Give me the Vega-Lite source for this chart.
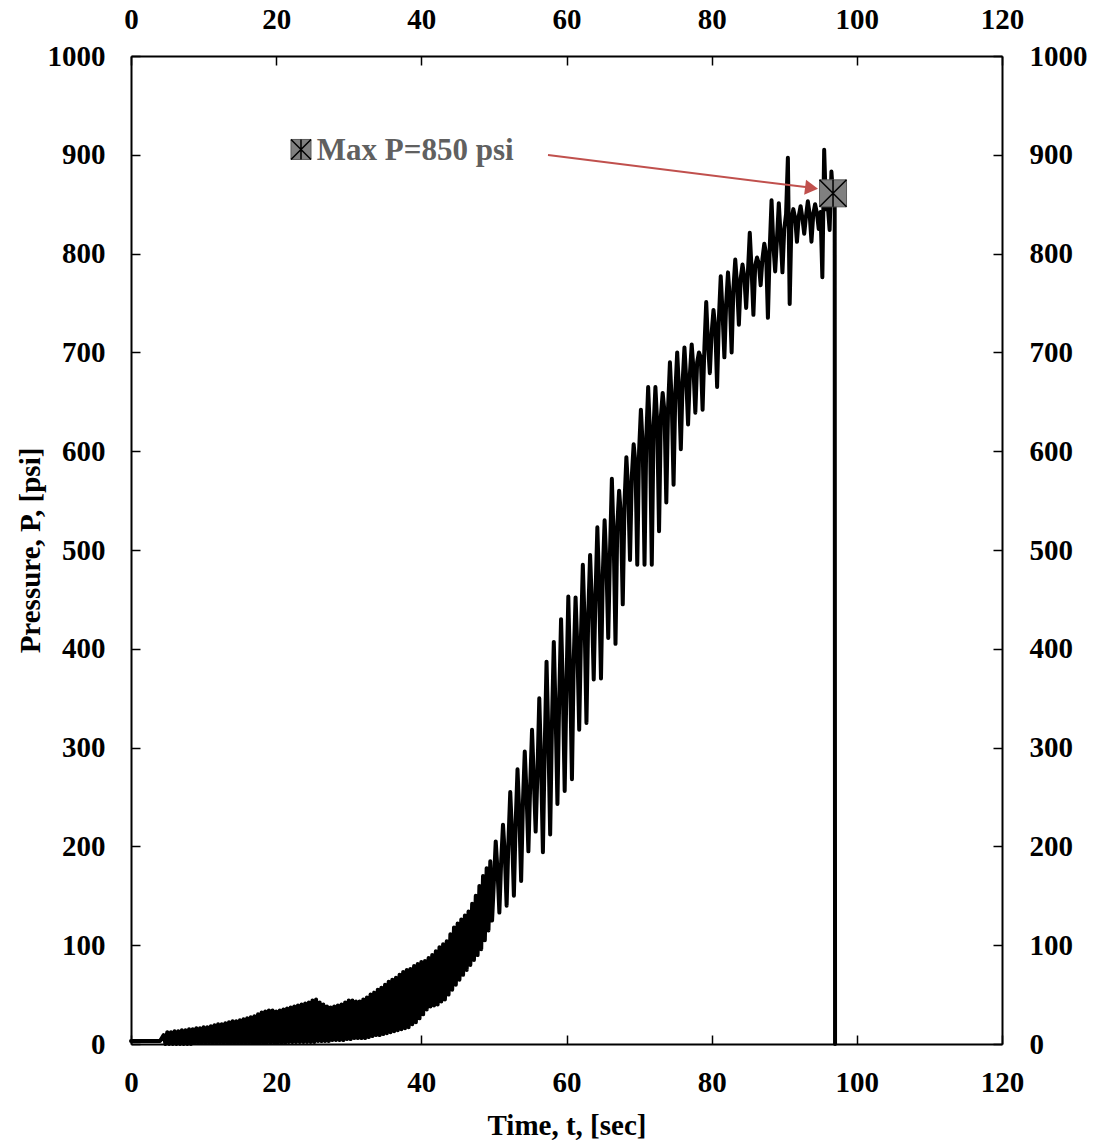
{
  "$schema": "https://vega.github.io/schema/vega-lite/v6.json",
  "width": 871,
  "height": 988,
  "autosize": {"type": "none"},
  "padding": {"left": 131, "top": 56, "right": 101, "bottom": 101},
  "background": "white",
  "config": {
    "view": {"stroke": null},
    "axis": {
      "grid": false,
      "domainColor": "black",
      "domainWidth": 2,
      "tickColor": "black",
      "tickWidth": 1.5,
      "tickSize": -9,
      "format": "d",
      "labelFont": "Liberation Serif",
      "labelFontWeight": "bold",
      "labelFontSize": 29,
      "labelColor": "black",
      "labelFlush": false,
      "labelOverlap": false,
      "labelBound": false,
      "titleFont": "Liberation Serif",
      "titleFontWeight": "bold",
      "titleFontSize": 29,
      "titleColor": "black"
    }
  },
  "datasets": {
    "pressure": [
      {"t": 0, "p": 3}, {"t": 0.5, "p": 3}, {"t": 1, "p": 3}, {"t": 1.5, "p": 3}, {"t": 2, "p": 3},
      {"t": 2.5, "p": 3}, {"t": 3, "p": 3}, {"t": 3.5, "p": 3}, {"t": 4, "p": 3}, {"t": 4.5, "p": 9},
      {"t": 4.75, "p": 0}, {"t": 5, "p": 12}, {"t": 5.25, "p": 0}, {"t": 5.5, "p": 12}, {"t": 5.75, "p": 0},
      {"t": 6, "p": 13}, {"t": 6.25, "p": 0}, {"t": 6.5, "p": 13}, {"t": 6.75, "p": 0}, {"t": 7, "p": 14},
      {"t": 7.25, "p": 0}, {"t": 7.5, "p": 14}, {"t": 7.75, "p": 0}, {"t": 8, "p": 15}, {"t": 8.25, "p": 0},
      {"t": 8.5, "p": 15}, {"t": 8.75, "p": 1}, {"t": 9, "p": 16}, {"t": 9.25, "p": 1}, {"t": 9.5, "p": 16},
      {"t": 9.75, "p": 1}, {"t": 10, "p": 17}, {"t": 10.25, "p": 1}, {"t": 10.5, "p": 17}, {"t": 10.75, "p": 1},
      {"t": 11, "p": 18}, {"t": 11.25, "p": 1}, {"t": 11.5, "p": 19}, {"t": 11.75, "p": 1}, {"t": 12, "p": 20},
      {"t": 12.25, "p": 1}, {"t": 12.5, "p": 20}, {"t": 12.75, "p": 1}, {"t": 13, "p": 21}, {"t": 13.25, "p": 1},
      {"t": 13.5, "p": 22}, {"t": 13.75, "p": 1}, {"t": 14, "p": 23}, {"t": 14.25, "p": 1}, {"t": 14.5, "p": 23},
      {"t": 14.75, "p": 1}, {"t": 15, "p": 24}, {"t": 15.25, "p": 1}, {"t": 15.5, "p": 25}, {"t": 15.75, "p": 1},
      {"t": 16, "p": 26}, {"t": 16.25, "p": 1}, {"t": 16.5, "p": 27}, {"t": 16.75, "p": 1}, {"t": 17, "p": 28},
      {"t": 17.25, "p": 1}, {"t": 17.5, "p": 30}, {"t": 17.75, "p": 1}, {"t": 18, "p": 32}, {"t": 18.25, "p": 1},
      {"t": 18.5, "p": 33}, {"t": 18.75, "p": 1}, {"t": 19, "p": 34}, {"t": 19.25, "p": 1}, {"t": 19.5, "p": 34},
      {"t": 19.75, "p": 1}, {"t": 20, "p": 33}, {"t": 20.25, "p": 1}, {"t": 20.5, "p": 34}, {"t": 20.75, "p": 1},
      {"t": 21, "p": 35}, {"t": 21.25, "p": 1}, {"t": 21.5, "p": 36}, {"t": 21.75, "p": 2}, {"t": 22, "p": 37},
      {"t": 22.25, "p": 2}, {"t": 22.5, "p": 38}, {"t": 22.75, "p": 2}, {"t": 23, "p": 39}, {"t": 23.25, "p": 2},
      {"t": 23.5, "p": 40}, {"t": 23.75, "p": 2}, {"t": 24, "p": 41}, {"t": 24.25, "p": 2}, {"t": 24.5, "p": 42},
      {"t": 24.75, "p": 2}, {"t": 25, "p": 44}, {"t": 25.25, "p": 2}, {"t": 25.5, "p": 45}, {"t": 25.75, "p": 3},
      {"t": 26, "p": 42}, {"t": 26.25, "p": 3}, {"t": 26.5, "p": 40}, {"t": 26.75, "p": 3}, {"t": 27, "p": 38},
      {"t": 27.25, "p": 3}, {"t": 27.5, "p": 37}, {"t": 27.75, "p": 4}, {"t": 28, "p": 38}, {"t": 28.25, "p": 4},
      {"t": 28.5, "p": 39}, {"t": 28.75, "p": 4}, {"t": 29, "p": 40}, {"t": 29.25, "p": 4}, {"t": 29.5, "p": 42},
      {"t": 29.75, "p": 5}, {"t": 30, "p": 44}, {"t": 30.25, "p": 5}, {"t": 30.5, "p": 44}, {"t": 30.75, "p": 6},
      {"t": 31, "p": 43}, {"t": 31.25, "p": 6}, {"t": 31.5, "p": 43}, {"t": 31.75, "p": 6}, {"t": 32, "p": 45},
      {"t": 32.25, "p": 6}, {"t": 32.5, "p": 47}, {"t": 32.75, "p": 7}, {"t": 33, "p": 50}, {"t": 33.25, "p": 8},
      {"t": 33.5, "p": 52}, {"t": 33.75, "p": 9}, {"t": 34, "p": 55}, {"t": 34.25, "p": 9}, {"t": 34.5, "p": 57},
      {"t": 34.75, "p": 10}, {"t": 35, "p": 60}, {"t": 35.25, "p": 11}, {"t": 35.5, "p": 63}, {"t": 35.75, "p": 12},
      {"t": 36, "p": 65}, {"t": 36.25, "p": 13}, {"t": 36.5, "p": 67}, {"t": 36.75, "p": 14}, {"t": 37, "p": 70},
      {"t": 37.25, "p": 15}, {"t": 37.5, "p": 73}, {"t": 37.75, "p": 16}, {"t": 38, "p": 75}, {"t": 38.25, "p": 17},
      {"t": 38.5, "p": 76}, {"t": 38.75, "p": 20}, {"t": 39, "p": 79}, {"t": 39.25, "p": 22}, {"t": 39.5, "p": 81},
      {"t": 39.75, "p": 26}, {"t": 40, "p": 83}, {"t": 40.25, "p": 30}, {"t": 40.5, "p": 84}, {"t": 40.75, "p": 35},
      {"t": 41, "p": 87}, {"t": 41.25, "p": 38}, {"t": 41.5, "p": 90}, {"t": 41.75, "p": 39}, {"t": 42, "p": 94},
      {"t": 42.25, "p": 40}, {"t": 42.5, "p": 98}, {"t": 42.75, "p": 43}, {"t": 43, "p": 101}, {"t": 43.25, "p": 45},
      {"t": 43.5, "p": 104}, {"t": 43.75, "p": 50}, {"t": 44, "p": 111}, {"t": 44.25, "p": 55}, {"t": 44.5, "p": 118},
      {"t": 44.75, "p": 60}, {"t": 45, "p": 122}, {"t": 45.25, "p": 65}, {"t": 45.5, "p": 126}, {"t": 45.75, "p": 70},
      {"t": 46, "p": 130}, {"t": 46.25, "p": 75}, {"t": 46.5, "p": 134}, {"t": 46.75, "p": 80}, {"t": 47, "p": 142},
      {"t": 47.25, "p": 85}, {"t": 47.5, "p": 150}, {"t": 47.75, "p": 90}, {"t": 48, "p": 160}, {"t": 48.25, "p": 96},
      {"t": 48.5, "p": 170}, {"t": 48.75, "p": 105}, {"t": 49, "p": 178}, {"t": 49.25, "p": 115}, {"t": 49.5, "p": 185},
      {"t": 49.75, "p": 125}, {"t": 50, "p": 165}, {"t": 50.25, "p": 205}, {"t": 50.5, "p": 175}, {"t": 50.75, "p": 133},
      {"t": 51, "p": 185}, {"t": 51.25, "p": 222}, {"t": 51.5, "p": 192}, {"t": 51.75, "p": 140},
      {"t": 52, "p": 205}, {"t": 52.25, "p": 255}, {"t": 52.5, "p": 212}, {"t": 52.75, "p": 150},
      {"t": 53, "p": 225}, {"t": 53.25, "p": 278}, {"t": 53.5, "p": 232}, {"t": 53.75, "p": 165},
      {"t": 54, "p": 245}, {"t": 54.25, "p": 296}, {"t": 54.5, "p": 252}, {"t": 54.75, "p": 195},
      {"t": 55, "p": 262}, {"t": 55.25, "p": 318}, {"t": 55.5, "p": 268}, {"t": 55.75, "p": 215},
      {"t": 56, "p": 275}, {"t": 56.25, "p": 350}, {"t": 56.5, "p": 282}, {"t": 56.75, "p": 194},
      {"t": 57, "p": 300}, {"t": 57.25, "p": 387}, {"t": 57.5, "p": 310}, {"t": 57.75, "p": 212},
      {"t": 58, "p": 325}, {"t": 58.25, "p": 407}, {"t": 58.5, "p": 335}, {"t": 58.75, "p": 243},
      {"t": 59, "p": 350}, {"t": 59.25, "p": 430}, {"t": 59.5, "p": 358}, {"t": 59.75, "p": 256},
      {"t": 60, "p": 365}, {"t": 60.25, "p": 453}, {"t": 60.5, "p": 372}, {"t": 60.75, "p": 268},
      {"t": 61, "p": 390}, {"t": 61.25, "p": 452}, {"t": 61.5, "p": 400}, {"t": 61.75, "p": 318},
      {"t": 62, "p": 415}, {"t": 62.25, "p": 485}, {"t": 62.5, "p": 425}, {"t": 62.75, "p": 325},
      {"t": 63, "p": 435}, {"t": 63.25, "p": 495}, {"t": 63.5, "p": 445}, {"t": 63.75, "p": 369},
      {"t": 64, "p": 455}, {"t": 64.25, "p": 523}, {"t": 64.5, "p": 462}, {"t": 64.75, "p": 370},
      {"t": 65, "p": 475}, {"t": 65.25, "p": 530}, {"t": 65.5, "p": 485}, {"t": 65.75, "p": 411},
      {"t": 66, "p": 500}, {"t": 66.25, "p": 572}, {"t": 66.5, "p": 510}, {"t": 66.75, "p": 405},
      {"t": 67, "p": 525}, {"t": 67.25, "p": 560}, {"t": 67.5, "p": 535}, {"t": 67.75, "p": 445},
      {"t": 68, "p": 550}, {"t": 68.25, "p": 594}, {"t": 68.5, "p": 560}, {"t": 68.75, "p": 490},
      {"t": 69, "p": 575}, {"t": 69.25, "p": 607}, {"t": 69.5, "p": 588}, {"t": 69.75, "p": 485},
      {"t": 70, "p": 600}, {"t": 70.25, "p": 642}, {"t": 70.5, "p": 605}, {"t": 70.75, "p": 485},
      {"t": 71, "p": 615}, {"t": 71.25, "p": 665}, {"t": 71.5, "p": 618}, {"t": 71.75, "p": 485},
      {"t": 72, "p": 625}, {"t": 72.25, "p": 665}, {"t": 72.5, "p": 628}, {"t": 72.75, "p": 519},
      {"t": 73, "p": 635}, {"t": 73.25, "p": 659}, {"t": 73.5, "p": 640}, {"t": 73.75, "p": 548},
      {"t": 74, "p": 645}, {"t": 74.25, "p": 690}, {"t": 74.5, "p": 650}, {"t": 74.75, "p": 566},
      {"t": 75, "p": 660}, {"t": 75.25, "p": 700}, {"t": 75.5, "p": 662}, {"t": 75.75, "p": 602},
      {"t": 76, "p": 670}, {"t": 76.25, "p": 705}, {"t": 76.5, "p": 672}, {"t": 76.75, "p": 627},
      {"t": 77, "p": 678}, {"t": 77.25, "p": 708}, {"t": 77.5, "p": 682}, {"t": 77.75, "p": 639},
      {"t": 78, "p": 690}, {"t": 78.25, "p": 700}, {"t": 78.5, "p": 695}, {"t": 78.75, "p": 642},
      {"t": 79, "p": 705}, {"t": 79.25, "p": 751}, {"t": 79.5, "p": 708}, {"t": 79.75, "p": 679},
      {"t": 80, "p": 720}, {"t": 80.25, "p": 743}, {"t": 80.5, "p": 725}, {"t": 80.75, "p": 665},
      {"t": 81, "p": 735}, {"t": 81.25, "p": 777}, {"t": 81.5, "p": 740}, {"t": 81.75, "p": 695},
      {"t": 82, "p": 750}, {"t": 82.25, "p": 781}, {"t": 82.5, "p": 755}, {"t": 82.75, "p": 700},
      {"t": 83, "p": 765}, {"t": 83.25, "p": 794}, {"t": 83.5, "p": 768}, {"t": 83.75, "p": 728},
      {"t": 84, "p": 775}, {"t": 84.25, "p": 789}, {"t": 84.5, "p": 776}, {"t": 84.75, "p": 745},
      {"t": 85, "p": 782}, {"t": 85.25, "p": 821}, {"t": 85.5, "p": 784}, {"t": 85.75, "p": 738},
      {"t": 86, "p": 788}, {"t": 86.25, "p": 796}, {"t": 86.5, "p": 790}, {"t": 86.75, "p": 768},
      {"t": 87, "p": 795}, {"t": 87.25, "p": 810}, {"t": 87.5, "p": 800}, {"t": 87.75, "p": 735},
      {"t": 88, "p": 805}, {"t": 88.25, "p": 854}, {"t": 88.5, "p": 808}, {"t": 88.75, "p": 782},
      {"t": 89, "p": 815}, {"t": 89.25, "p": 851}, {"t": 89.5, "p": 818}, {"t": 89.75, "p": 781},
      {"t": 90, "p": 825}, {"t": 90.25, "p": 840}, {"t": 90.5, "p": 897}, {"t": 90.75, "p": 749},
      {"t": 91, "p": 835}, {"t": 91.25, "p": 845}, {"t": 91.5, "p": 836}, {"t": 91.75, "p": 812},
      {"t": 92, "p": 838}, {"t": 92.25, "p": 848}, {"t": 92.5, "p": 836}, {"t": 92.75, "p": 820},
      {"t": 93, "p": 838}, {"t": 93.25, "p": 853}, {"t": 93.5, "p": 840}, {"t": 93.75, "p": 812},
      {"t": 94, "p": 840}, {"t": 94.25, "p": 850}, {"t": 94.5, "p": 841}, {"t": 94.75, "p": 825},
      {"t": 95, "p": 842}, {"t": 95.25, "p": 776}, {"t": 95.5, "p": 905}, {"t": 95.75, "p": 845},
      {"t": 96, "p": 848}, {"t": 96.25, "p": 824}, {"t": 96.5, "p": 883}, {"t": 96.75, "p": 855},
      {"t": 96.95, "p": 860}, {"t": 97, "p": 0}
    ],
    "peak": [{"t": 96.72, "p": 861}],
    "note": [{"t": 23.42, "p": 905.4, "tx": 25.6, "py": 894.7, "label": "Max P=850 psi"}],
    "arrow": [{"t": 57.45, "p": 899.8, "t2": 93.5, "p2": 866.8, "th": 93.76, "ph": 866.4}]
  },
  "layer": [
    {
      "data": {"name": "pressure"},
      "mark": {"type": "line", "color": "black", "strokeWidth": 4, "strokeJoin": "round", "strokeCap": "round"},
      "encoding": {
        "x": {
          "field": "t", "type": "quantitative",
          "scale": {"domain": [0, 120], "nice": false, "zero": false},
          "axis": {"orient": "bottom", "values": [0, 20, 40, 60, 80, 100, 120], "labelPadding": 33, "title": "Time, t, [sec]", "titlePadding": 14}
        },
        "y": {
          "field": "p", "type": "quantitative",
          "scale": {"domain": [0, 1000], "nice": false, "zero": false},
          "axis": {"orient": "left", "values": [0, 100, 200, 300, 400, 500, 600, 700, 800, 900, 1000], "labelPadding": 35, "title": "Pressure, P, [psi]", "titlePadding": 2}
        }
      }
    },
    {
      "data": {"name": "peak"},
      "mark": {"type": "point", "shape": "square", "filled": true, "fill": "#808080", "stroke": "#5a5a5a", "strokeWidth": 1, "size": 729, "opacity": 1},
      "encoding": {
        "x": {
          "field": "t", "type": "quantitative",
          "scale": {"domain": [0, 120], "nice": false, "zero": false},
          "axis": {"orient": "top", "values": [0, 20, 40, 60, 80, 100, 120], "labelPadding": 31, "title": null}
        },
        "y": {
          "field": "p", "type": "quantitative",
          "scale": {"domain": [0, 1000], "nice": false, "zero": false},
          "axis": {"orient": "right", "values": [0, 100, 200, 300, 400, 500, 600, 700, 800, 900, 1000], "labelPadding": 36, "title": null}
        }
      }
    },
    {
      "data": {"name": "peak"},
      "mark": {"type": "point", "shape": "M-1,-1L1,1M-1,1L1,-1M0,-1L0,1", "filled": false, "stroke": "black", "strokeWidth": 1.5, "size": 729, "opacity": 1},
      "encoding": {
        "x": {"field": "t", "type": "quantitative", "scale": {"domain": [0, 120], "nice": false, "zero": false}, "axis": null},
        "y": {"field": "p", "type": "quantitative", "scale": {"domain": [0, 1000], "nice": false, "zero": false}, "axis": null}
      }
    },
    {
      "data": {"name": "note"},
      "mark": {"type": "point", "shape": "square", "filled": true, "fill": "#808080", "stroke": "#5a5a5a", "strokeWidth": 1, "size": 400, "opacity": 1},
      "encoding": {
        "x": {"field": "t", "type": "quantitative", "scale": {"domain": [0, 120], "nice": false, "zero": false}, "axis": null},
        "y": {"field": "p", "type": "quantitative", "scale": {"domain": [0, 1000], "nice": false, "zero": false}, "axis": null}
      }
    },
    {
      "data": {"name": "note"},
      "mark": {"type": "point", "shape": "M-1,-1L1,1M-1,1L1,-1M0,-1L0,1", "filled": false, "stroke": "black", "strokeWidth": 1.5, "size": 400, "opacity": 1},
      "encoding": {
        "x": {"field": "t", "type": "quantitative", "scale": {"domain": [0, 120], "nice": false, "zero": false}, "axis": null},
        "y": {"field": "p", "type": "quantitative", "scale": {"domain": [0, 1000], "nice": false, "zero": false}, "axis": null}
      }
    },
    {
      "data": {"name": "note"},
      "mark": {"type": "text", "align": "left", "baseline": "alphabetic", "font": "Liberation Serif", "fontWeight": "bold", "fontSize": 31, "color": "#606060"},
      "encoding": {
        "x": {"field": "tx", "type": "quantitative", "scale": {"domain": [0, 120], "nice": false, "zero": false}, "axis": null},
        "y": {"field": "py", "type": "quantitative", "scale": {"domain": [0, 1000], "nice": false, "zero": false}, "axis": null},
        "text": {"field": "label"}
      }
    },
    {
      "data": {"name": "arrow"},
      "mark": {"type": "rule", "color": "#C0504D", "strokeWidth": 2},
      "encoding": {
        "x": {"field": "t", "type": "quantitative", "scale": {"domain": [0, 120], "nice": false, "zero": false}, "axis": null},
        "y": {"field": "p", "type": "quantitative", "scale": {"domain": [0, 1000], "nice": false, "zero": false}, "axis": null},
        "x2": {"field": "t2"},
        "y2": {"field": "p2"}
      }
    },
    {
      "data": {"name": "arrow"},
      "mark": {"type": "point", "shape": "triangle-right", "filled": true, "fill": "#C0504D", "strokeWidth": 0, "size": 225, "angle": 7, "opacity": 1},
      "encoding": {
        "x": {"field": "th", "type": "quantitative", "scale": {"domain": [0, 120], "nice": false, "zero": false}, "axis": null},
        "y": {"field": "ph", "type": "quantitative", "scale": {"domain": [0, 1000], "nice": false, "zero": false}, "axis": null}
      }
    }
  ],
  "resolve": {"axis": {"x": "independent", "y": "independent"}}
}
